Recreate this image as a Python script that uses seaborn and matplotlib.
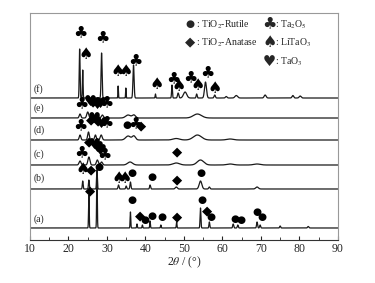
import numpy as np
import pandas as pd
import matplotlib
matplotlib.use('Agg')
import matplotlib.pyplot as plt
import seaborn as sns

# sample labels, offsets of each pattern in the stack
samples = ['(a)', '(b)', '(c)', '(d)', '(e)', '(f)']
offsets = [12, 51, 75, 100, 122, 142]

# peak lists: (2theta, intensity, fwhm)
peaks_a = [(25.3, 33, 0.2), (27.4, 58, 0.2), (36.1, 16, 0.2), (37.8, 4, 0.2),
           (39.2, 3, 0.2), (41.2, 7, 0.2), (44.0, 3, 0.2), (48.1, 6, 0.2),
           (54.3, 20, 0.25), (56.6, 6, 0.25), (62.8, 4, 0.3), (64.0, 3, 0.3),
           (69.0, 6, 0.3), (69.8, 3, 0.3), (75.0, 2, 0.3), (82.3, 1.5, 0.4)]
peaks_b = [(23.7, 8, 0.25), (25.3, 9, 0.25), (27.4, 19, 0.25), (33.0, 4, 0.3),
           (35.0, 3, 0.3), (36.1, 7, 0.3), (41.2, 4, 0.3), (48.0, 2, 0.6),
           (54.3, 8, 0.8), (56.6, 2, 0.4), (69.0, 2, 0.8)]
peaks_c = [(23.0, 4, 0.6), (25.3, 8, 0.6), (27.5, 5, 0.6), (28.6, 3, 0.6),
           (36.0, 3, 1.5), (48.0, 2, 2.0), (54.3, 5, 2.0), (62.0, 1, 2.0), (69.0, 1, 2.0)]
peaks_d = [(23.0, 5, 0.5), (25.2, 8, 0.5), (27.0, 5, 0.5), (28.5, 5, 0.6),
           (35.5, 4, 1.5), (37.0, 4, 1.0), (48.0, 1.5, 2.0), (53.5, 5, 2.5), (62.0, 1, 2.0)]
peaks_e = [(23.0, 4, 0.5), (25.0, 6, 0.6), (27.5, 4, 0.6), (28.8, 3, 0.6),
           (35.5, 3, 1.5), (37.0, 3, 1.0), (53.5, 4, 2.5)]
peaks_f = [(22.9, 49, 0.25), (23.7, 28, 0.2), (28.6, 45, 0.3), (32.9, 12, 0.15),
           (34.9, 10, 0.15), (36.9, 33, 0.35), (42.6, 4, 0.2), (46.9, 13, 0.25),
           (48.5, 5, 0.4), (50.3, 6, 1.0), (53.3, 4, 0.3), (55.6, 16, 0.6),
           (58.0, 3, 0.4), (61.0, 1.5, 0.5), (63.6, 2.5, 0.8), (71.1, 3, 0.6),
           (78.3, 2.5, 0.5), (80.2, 2, 0.6)]
all_peaks = [peaks_a, peaks_b, peaks_c, peaks_d, peaks_e, peaks_f]

# phase symbols
phases = {'R': '\u25CF', 'A': '\u25C6', 'T': '\u2663', 'L': '\u2660', 'H': '\u2665'}
sym_size = {'R': 7.5, 'A': 9.5, 'T': 11.5, 'L': 11.5, 'H': 10.5}
legend_keys = ['R', 'A', 'T', 'L', 'H']
legend_names = [r': TiO$_2$-Rutile', r': TiO$_2$-Anatase', r': Ta$_2$O$_5$',
                r': LiTaO$_3$', r': TaO$_3$']

# phase marks: (2theta, phase, height of mark)
marks_a = [(25.5, 'A', 49), (36.6, 'R', 39.5), (38.7, 'A', 24), (39.9, 'R', 20),
           (41.8, 'R', 24), (44.2, 'R', 22.7), (48.3, 'A', 23), (54.6, 'R', 40),
           (55.9, 'A', 29.3), (57.0, 'R', 23.3), (63.3, 'R', 20.7), (64.8, 'R', 20),
           (69.0, 'R', 27.7), (70.3, 'R', 22.7)]
marks_b = [(23.8, 'L', 70), (26.0, 'A', 70), (28.0, 'R', 73.3), (33.0, 'L', 61.5),
           (34.6, 'L', 61.5), (36.5, 'R', 67), (41.6, 'R', 63.3), (48.3, 'A', 60),
           (54.4, 'R', 66.5)]
marks_c = [(23.4, 'T', 87.3), (25.4, 'A', 98), (26.6, 'H', 95), (27.4, 'H', 92),
           (28.2, 'H', 89), (29.4, 'T', 85), (48.3, 'A', 88)]
marks_d = [(23.2, 'T', 114.5), (25.8, 'A', 120), (26.8, 'H', 122), (27.6, 'A', 119),
           (28.4, 'H', 117), (29.9, 'T', 117), (35.3, 'R', 115), (37.3, 'T', 116),
           (38.9, 'A', 114)]
marks_e = [(23.3, 'T', 136), (25.6, 'H', 139), (26.5, 'A', 138), (27.5, 'H', 136),
           (28.3, 'H', 137), (29.8, 'T', 137)]
marks_f = [(23.0, 'T', 206.7), (24.5, 'L', 185.7), (28.8, 'T', 201.7), (32.8, 'L', 168.3),
           (34.9, 'L', 168.3), (37.5, 'T', 179.3), (42.9, 'L', 156), (47.2, 'T', 160.7),
           (48.5, 'L', 153.3), (51.6, 'T', 161.7), (53.5, 'L', 155), (56.2, 'T', 166.7),
           (58.1, 'L', 151.7)]
all_marks = [marks_a, marks_b, marks_c, marks_d, marks_e, marks_f]

# build long table of patterns from the peak lists
two_theta = np.arange(10, 90.001, 0.02)
rows = []
for name, off, pk in zip(samples, offsets, all_peaks):
    y = np.full_like(two_theta, float(off))
    for c, h, w in pk:
        s = w / 2.355
        y += h * np.exp(-0.5 * ((two_theta - c) / s) ** 2)
    rows.append(pd.DataFrame({'two_theta': two_theta, 'I': y, 'sample': name}))
df = pd.concat(rows, ignore_index=True)

sns.set_style('ticks')
plt.rcParams['font.family'] = ['Liberation Serif', 'DejaVu Sans']
plt.rcParams['mathtext.fontset'] = 'stix'

fig = plt.figure(figsize=(3.75, 2.83), dpi=100)
ax = fig.add_axes([0.08, 0.152, 0.821, 0.802])

sns.lineplot(data=df, x='two_theta', y='I', hue='sample', units='sample',
             estimator=None, palette=['#1a1a1a'] * 6, linewidth=0.9,
             legend=False, ax=ax)

sym_font = ['DejaVu Sans']
for mk in all_marks:
    for x, ph, yy in mk:
        ax.text(x, yy, phases[ph], family=sym_font, fontsize=sym_size[ph],
                ha='center', va='center', color='black')

for name, yy in zip(samples, [21, 62, 86, 110, 132, 151]):
    ax.text(11.0, yy, name, fontsize=7, ha='left', va='center', color='#222222')

# legend drawn as text in data space
leg_pos = [(51.6, 215.7), (51.6, 197.7), (72.2, 215.7), (72.2, 197.7), (72.2, 178.3)]
for k, nm, (lx, ly) in zip(legend_keys, legend_names, leg_pos):
    ax.text(lx, ly, phases[k], family=sym_font, fontsize=sym_size[k],
            ha='center', va='center')
    ax.text(lx + 1.5, ly, nm, fontsize=7, ha='left', va='center')

ax.set_xlim(10, 90)
ax.set_ylim(0, 227)
ax.set_xticks(np.arange(10, 91, 10))
ax.set_xticks(np.arange(15, 90, 10), minor=True)
ax.set_yticks([])
ax.tick_params(axis='x', which='major', direction='in', length=3, width=0.8,
               labelsize=8.5, pad=2)
ax.tick_params(axis='x', which='minor', direction='in', length=2, width=0.6)
ax.set_xlabel(r'2$\theta$ / (°)', fontsize=8.5, labelpad=0)
ax.set_ylabel('')
for side in ['left', 'top', 'right']:
    ax.spines[side].set_color('#999999')
    ax.spines[side].set_linewidth(0.8)
ax.spines['bottom'].set_color('#333333')

fig.savefig('out.png', dpi=100)
